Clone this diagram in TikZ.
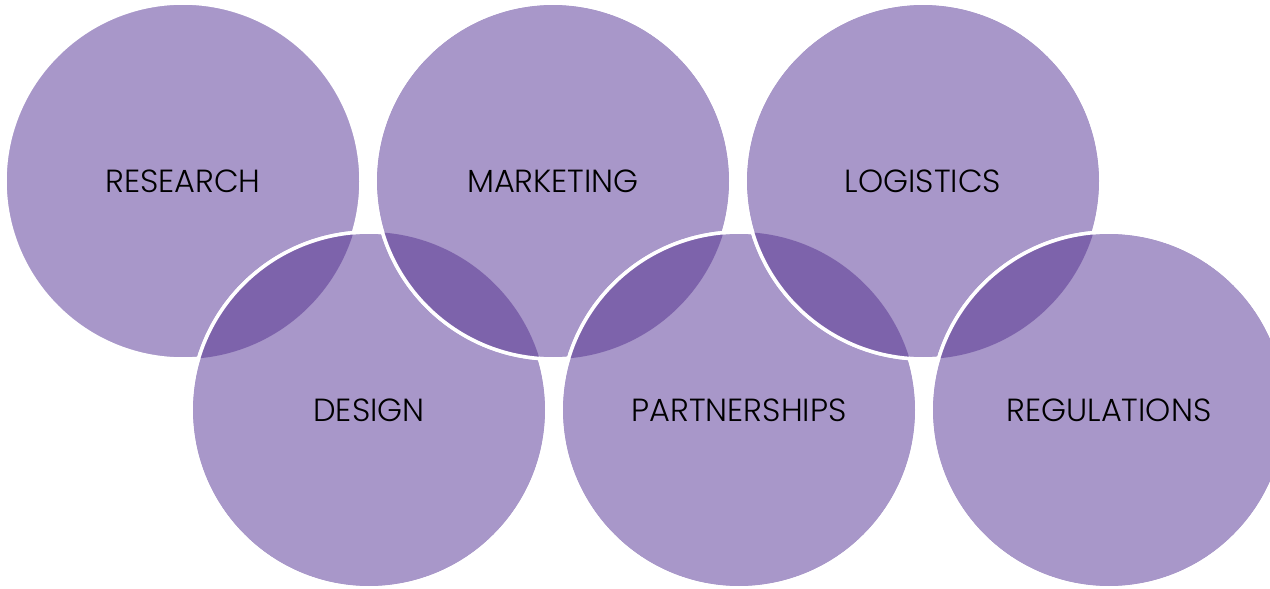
\documentclass[tikz,border=0pt]{standalone}
\usepackage{fontspec}
\setmainfont{Poppins}[UprightFont=* Light]
\definecolor{ringlight}{RGB}{168,151,201}
\definecolor{ringdark}{RGB}{125,99,171}
\tikzset{
  ring/.style={circle, minimum size=356pt, inner sep=0pt, outer sep=0pt, fill=ringlight, draw=white, line width=3.5pt, font=\fontsize{32}{34}\selectfont, text=black},
  rimline/.style={draw=white, line width=3.5pt},
  lens/.style={fill=ringdark}
}
\begin{document}
\begin{tikzpicture}[x=1pt,y=-1pt]
\useasboundingbox[fill=white] (0,0) rectangle (1270,589);
\clip (0,0) rectangle (1270,589);
% centres
\coordinate (cR) at (183,181);
\coordinate (cD) at (369,410);
\coordinate (cM) at (553,181);
\coordinate (cP) at (739,410);
\coordinate (cL) at (923,181);
\coordinate (cG) at (1109,410);
\node[ring] (research) at (cR) {RESEARCH};
\node[ring] (design) at (cD) {DESIGN};
\begin{scope}\clip (cR) circle (178pt); \fill[lens] (cD) circle (178pt);\end{scope}
\path[rimline] (cD) circle (178pt);
\node[ring] (marketing) at (cM) {MARKETING};
\begin{scope}\clip (cD) circle (178pt); \fill[lens] (cM) circle (178pt);\end{scope}
\path[rimline] (cM) circle (178pt);
\node[ring] (partnerships) at (cP) {PARTNERSHIPS};
\begin{scope}\clip (cM) circle (178pt); \fill[lens] (cP) circle (178pt);\end{scope}
\path[rimline] (cP) circle (178pt);
\node[ring] (logistics) at (cL) {LOGISTICS};
\begin{scope}\clip (cP) circle (178pt); \fill[lens] (cL) circle (178pt);\end{scope}
\path[rimline] (cL) circle (178pt);
\node[ring] (regulations) at (cG) {REGULATIONS};
\begin{scope}\clip (cL) circle (178pt); \fill[lens] (cG) circle (178pt);\end{scope}
\path[rimline] (cG) circle (178pt);
\end{tikzpicture}
\end{document}
